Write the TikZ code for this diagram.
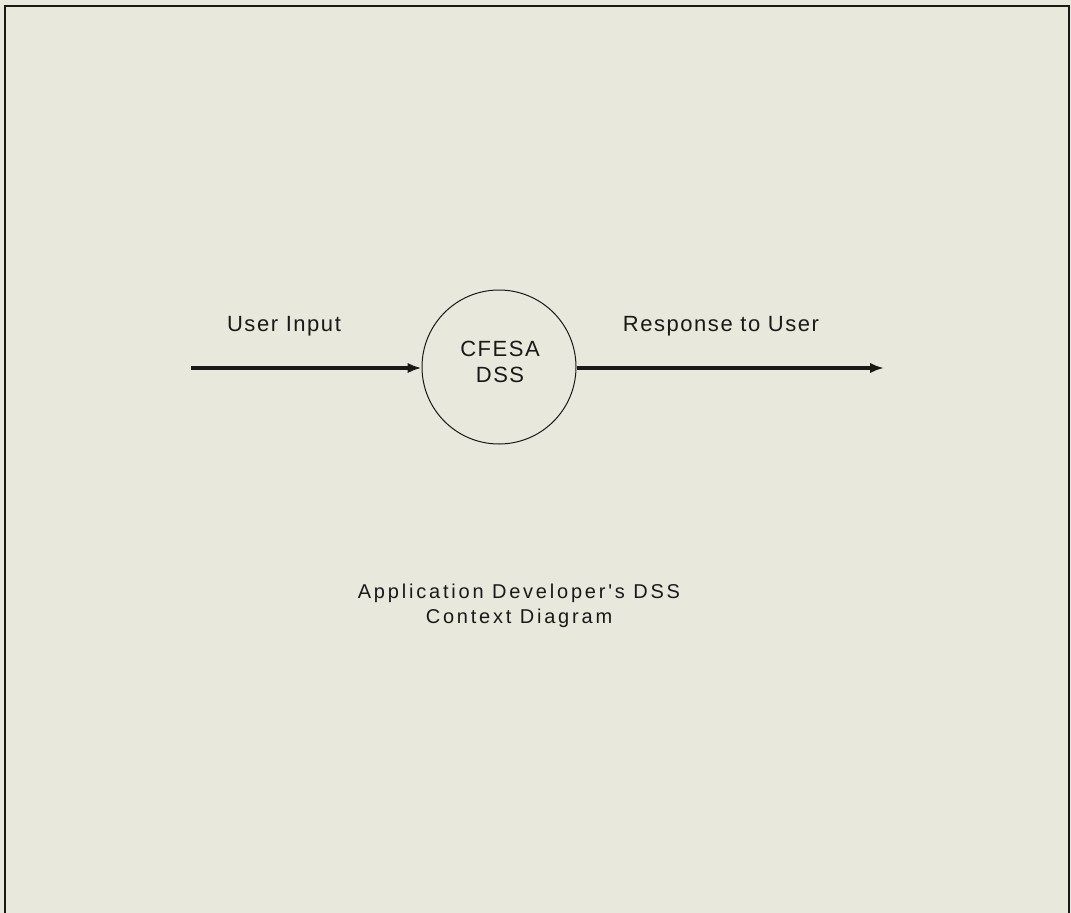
\documentclass[tikz,border=0pt]{standalone}
\usepackage{fontspec}
\setmainfont{Liberation Sans}
\newfontfamily\lblfont[LetterSpace=7]{Liberation Sans}
\newfontfamily\ttlfont[LetterSpace=14]{Liberation Sans}
\usetikzlibrary{arrows.meta}
\definecolor{paper}{HTML}{E9E8DD}
\definecolor{ink}{HTML}{1A1917}
\tikzset{
  flow/.style={draw=ink, line width=3.2pt, -{Latex[length=14pt,width=10.5pt]}},
  lbl/.style={font=\lblfont\fontsize{22}{26}\selectfont, text=ink, inner sep=0pt},
  ttl/.style={font=\ttlfont\fontsize{20}{25}\selectfont, text=ink, inner sep=0pt},
  proc/.style={circle, draw=ink, line width=1pt, minimum size=154pt, inner sep=0pt},
}
\begin{document}
\begin{tikzpicture}[x=1pt,y=-1pt]
\fill[paper] (0,0) rectangle (1071,913);
\useasboundingbox (0,0) rectangle (1071,913);
\draw[ink, line width=2.4pt] (5,913) -- (5,6) -- (1069,6) -- (1069,913);
\node[proc] (p) at (499,367) {};
\node[lbl, align=center] (pt) at (500,361.5) {CFESA\\DSS};
\coordinate (src) at (191,368);
\coordinate (dst) at (884,368);
\draw[flow] (src) -- (p.west |- src);
\draw[flow] (p.east |- dst) -- (dst);
\node[lbl, anchor=base] (in) at (284,331) {User Input};
\node[lbl, anchor=base] (out) at (721,331) {Response to User};
\node[ttl, align=center, anchor=north] (title) at (519,584) {Application Developer's DSS\\Context Diagram};
\end{tikzpicture}
\end{document}
